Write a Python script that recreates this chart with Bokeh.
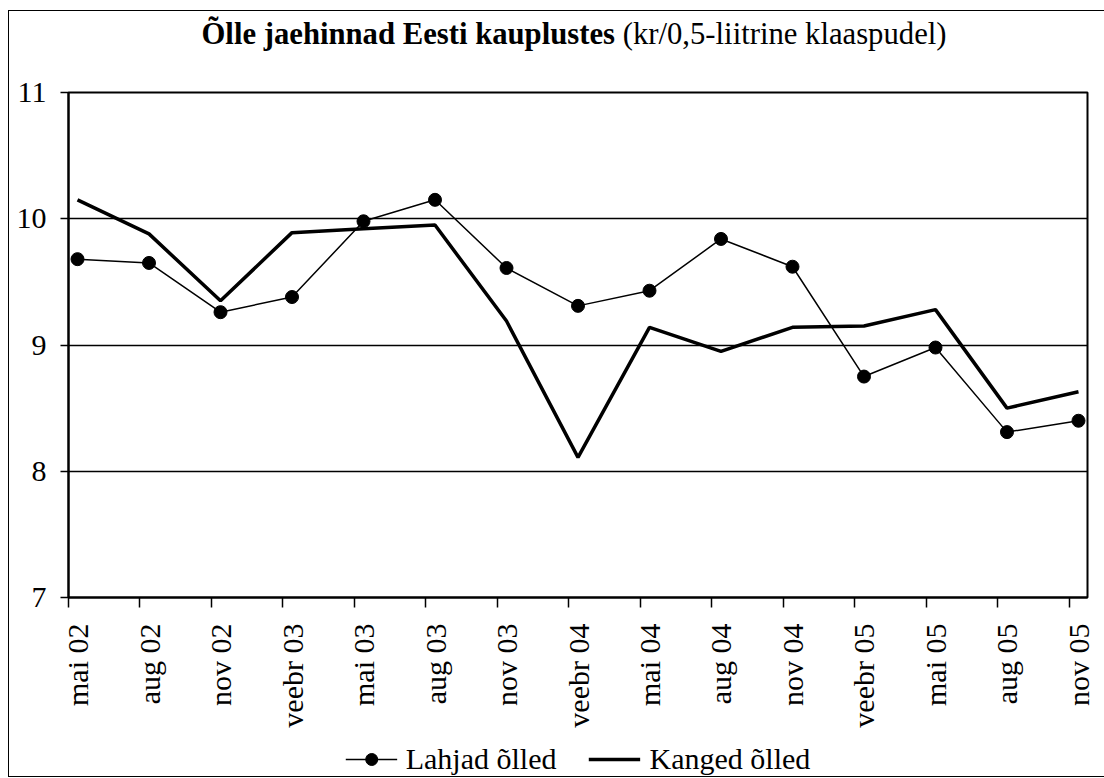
import math
from bokeh.plotting import figure
from bokeh.layouts import column
from bokeh.models import FixedTicker, Legend, LegendItem, Range1d, Div
from bokeh.embed import file_html
from bokeh.resources import INLINE

categories = ["mai 02", "aug 02", "nov 02", "veebr 03", "mai 03", "aug 03", "nov 03",
              "veebr 04", "mai 04", "aug 04", "nov 04", "veebr 05", "mai 05", "aug 05", "nov 05"]
lahjad = [9.68, 9.65, 9.26, 9.38, 9.98, 10.15, 9.61, 9.31, 9.43, 9.84, 9.62, 8.75, 8.98, 8.31, 8.40]
kanged = [10.15, 9.88, 9.35, 9.89, 9.92, 9.95, 9.19, 8.11, 9.14, 8.95, 9.14, 9.15, 9.28, 8.50, 8.63]
y_ticks = [7, 8, 9, 10, 11]
title_bold = "Õlle jaehinnad Eesti kauplustes"
title_normal = "(kr/0,5-liitrine klaaspudel)"
legend_labels = ["Lahjad õlled", "Kanged õlled"]

FONT = "Liberation Serif"
xs = list(range(len(categories)))
pad = 0.126

p = figure(frame_width=1019, frame_height=505, output_backend="svg", toolbar_location=None,
           x_range=Range1d(-pad, len(categories) - 1 + pad), y_range=Range1d(7, 11),
           min_border_left=59, min_border_top=25, min_border_right=11, min_border_bottom=145)
p.background_fill_color = "white"
p.border_fill_color = "white"
p.outline_line_color = "black"
p.outline_line_width = 2

# axes
p.xaxis.ticker = FixedTicker(ticks=xs, minor_ticks=[i - pad for i in xs])
p.xaxis.major_label_overrides = {i: c for i, c in zip(xs, categories)}
p.xaxis.major_label_orientation = math.pi / 2
p.xaxis.major_tick_out = 0
p.xaxis.major_tick_in = 0
p.xaxis.minor_tick_out = 10
p.xaxis.minor_tick_in = 0
p.xaxis.minor_tick_line_color = "black"
p.xaxis.minor_tick_line_width = 1.5
p.xaxis.major_label_standoff = 16
p.yaxis.ticker = FixedTicker(ticks=y_ticks)
p.yaxis.major_tick_out = 8
p.yaxis.major_tick_in = 0
p.yaxis.minor_tick_out = 0
p.yaxis.minor_tick_in = 0
p.yaxis.major_label_standoff = 14
for ax in (p.xaxis, p.yaxis):
    ax.axis_line_color = "black"
    ax.axis_line_width = 2
    ax.major_tick_line_color = "black"
    ax.major_tick_line_width = 1.5
    ax.major_label_text_font = FONT
    ax.major_label_text_font_size = "30px"
    ax.major_label_text_color = "black"

p.xgrid.visible = False
p.ygrid.grid_line_color = "black"
p.ygrid.grid_line_width = 1.3
p.ygrid.grid_line_alpha = 1

# series
LAHJAD_STYLE = dict(line_color="black", line_width=1.5)
MARKER_STYLE = dict(size=13, marker="circle", fill_color="black", line_color="black")
KANGED_STYLE = dict(line_color="black", line_width=3.5)
p.line(xs, lahjad, **LAHJAD_STYLE)
p.scatter(xs, lahjad, **MARKER_STYLE)
p.line(xs, kanged, **KANGED_STYLE)

# legend strip (separate canvas below the chart; its own copies of the series are out of view)
lg = figure(frame_width=1019, frame_height=34, output_backend="svg", toolbar_location=None,
            x_axis_type=None, y_axis_type=None,
            x_range=Range1d(100, 101), y_range=Range1d(100, 101),
            min_border_left=59, min_border_right=11, min_border_top=0, min_border_bottom=0)
lg.outline_line_color = None
lg.grid.visible = False
lg.background_fill_color = "white"
lg.border_fill_color = "white"
r1 = lg.line(xs, lahjad, **LAHJAD_STYLE)
r2 = lg.scatter(xs, lahjad, **MARKER_STYLE)
r3 = lg.line(xs, kanged, **KANGED_STYLE)
legend = Legend(items=[LegendItem(label=legend_labels[0], renderers=[r1, r2]),
                       LegendItem(label=legend_labels[1], renderers=[r3])],
                orientation="horizontal", location="center",
                label_text_font=FONT, label_text_font_size="30px", label_text_color="black",
                glyph_width=52, glyph_height=30, label_height=30, label_standoff=9, spacing=32,
                padding=0, margin=0, border_line_color=None, background_fill_alpha=0)
lg.add_layout(legend, "center")

title = Div(text=(f'<div style="position:relative; top:-7px; white-space:nowrap;">'
                  f'<b>{title_bold}</b> {title_normal}</div>'),
            width=1089, height=46,
            styles={"font-family": "'Liberation Serif', 'Times New Roman', serif",
                    "font-size": "30.7px", "color": "black", "text-align": "center",
                    "padding-top": "4px", "padding-left": "31px", "box-sizing": "border-box",
                    "background-color": "white"})

layout = column(title, p, lg, spacing=0, margin=(10, 0, 0, 8),
                styles={"border": "1.5px solid black", "background-color": "white"})

open("out.html", "w").write(file_html(layout, INLINE))
